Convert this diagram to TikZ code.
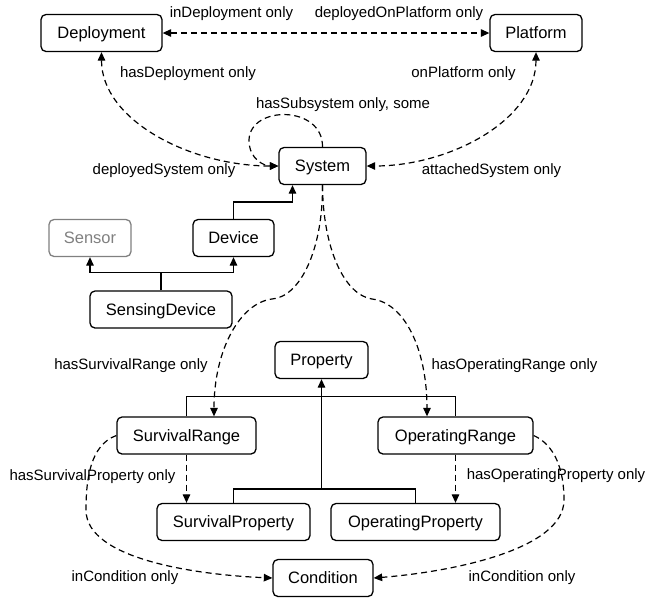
\documentclass[tikz,border=0pt]{standalone}
\usepackage{fontspec}
\setmainfont{Liberation Sans}
\usetikzlibrary{arrows.meta}
\definecolor{sensorgray}{RGB}{128,128,128}
\tikzset{
  >={Triangle[length=8.5pt,width=7.5pt]},
  cls/.style={draw, line width=1.3pt, rounded corners=5pt, minimum height=37pt,
    inner sep=0pt, text height=15pt, text depth=3.2pt, font=\fontsize{16.5}{19}\selectfont},
  lbl/.style={inner sep=0pt, anchor=base, font=\fontsize{15}{18}\selectfont},
  rel/.style={line width=1.2pt, dash pattern=on 6pt off 4pt},
  inh/.style={line width=1.3pt}
}
\begin{document}
\begin{tikzpicture}[x=1pt,y=-1pt]
\useasboundingbox (0,0) rectangle (648,598);
% classes
\node[cls, minimum width=121pt] (dep) at (101.5,33) {Deployment};
\node[cls, minimum width=92pt] (plat) at (536,33) {Platform};
\node[cls, minimum width=87pt] (sys) at (322.5,166) {System};
\node[cls, minimum width=82pt, draw=sensorgray, text=sensorgray] (sensor) at (90,238) {Sensor};
\node[cls, minimum width=81pt] (dev) at (233.5,238) {Device};
\node[cls, minimum width=142pt] (sd) at (161,309.5) {SensingDevice};
\node[cls, minimum width=93pt] (prop) at (321.5,360) {Property};
\node[cls, minimum width=139pt] (sr) at (186.5,435.5) {SurvivalRange};
\node[cls, minimum width=155pt] (or) at (455.5,435.5) {OperatingRange};
\node[cls, minimum width=153pt] (sp) at (233.5,522) {SurvivalProperty};
\node[cls, minimum width=169pt] (op) at (415.5,522) {OperatingProperty};
\node[cls, minimum width=100pt] (cond) at (323,578) {Condition};

% object properties
\draw[rel,<->] (dep) -- (plat);
\draw[rel,<->] (dep.south) .. controls (101.5,120) and (190,166) .. (sys.west);
\draw[rel,<->] (plat.south) .. controls (536,120) and (450,166) .. (sys.east);
\draw[rel,->] (sys.north) .. controls (323,105) and (250,105) .. (249,140)
   .. controls (249,160) and (265,166) .. (sys.west);
\draw[rel,->] (sys.south) .. controls (323,250) and (300,297) .. (272,299)
   .. controls (240,303) and (214,350) .. ([xshift=27.5pt]sr.north);
\draw[rel,->] (sys.south) .. controls (323,250) and (345,295) .. (372,299)
   .. controls (405,303) and (427,350) .. ([xshift=-28.5pt]or.north);
\draw[rel,->] (sr.south) -- (sr.south |- sp.north);
\draw[rel,->] (or.south) -- (or.south |- op.north);
\draw[rel,->] (sr.west) .. controls (90,445) and (86,480) .. (86,510)
   .. controls (86,560) and (200,575) .. (cond.west);
\draw[rel,->] (or.east) .. controls (555,445) and (564,470) .. (564,500)
   .. controls (564,550) and (450,572) .. (cond.east);

% subclass links
\draw[inh,->] (dev.north) -- ++(0,-17) -| ([xshift=-30pt]sys.south);
\draw[inh,->] (sd.north) -- ++(0,-18) coordinate (sdj) -| (sensor.south);
\draw[inh,->] (sdj) -| (dev.south);
\draw[inh] (sr.north) -- ++(0,-20) -| (or.north);
\draw[inh] (sp.north) -- ++(0,-14) -| (op.north);
\draw[inh,->] ([yshift=14pt]sp.north -| prop.south) -- (prop.south);

% labels
\node[lbl] at (231.5,17) {inDeployment only};
\node[lbl] at (399,17) {deployedOnPlatform only};
\node[lbl] at (188,77) {hasDeployment only};
\node[lbl] at (463.5,77) {onPlatform only};
\node[lbl] at (343,108) {hasSubsystem only, some};
\node[lbl] at (164,174) {deployedSystem only};
\node[lbl] at (491.5,174) {attachedSystem only};
\node[lbl] at (131,369) {hasSurvivalRange only};
\node[lbl] at (514.5,369) {hasOperatingRange only};
\node[lbl] at (92.5,480) {hasSurvivalProperty only};
\node[lbl] at (556,479) {hasOperatingProperty only};
\node[lbl] at (125,581) {inCondition only};
\node[lbl] at (522,581) {inCondition only};
\end{tikzpicture}
\end{document}
